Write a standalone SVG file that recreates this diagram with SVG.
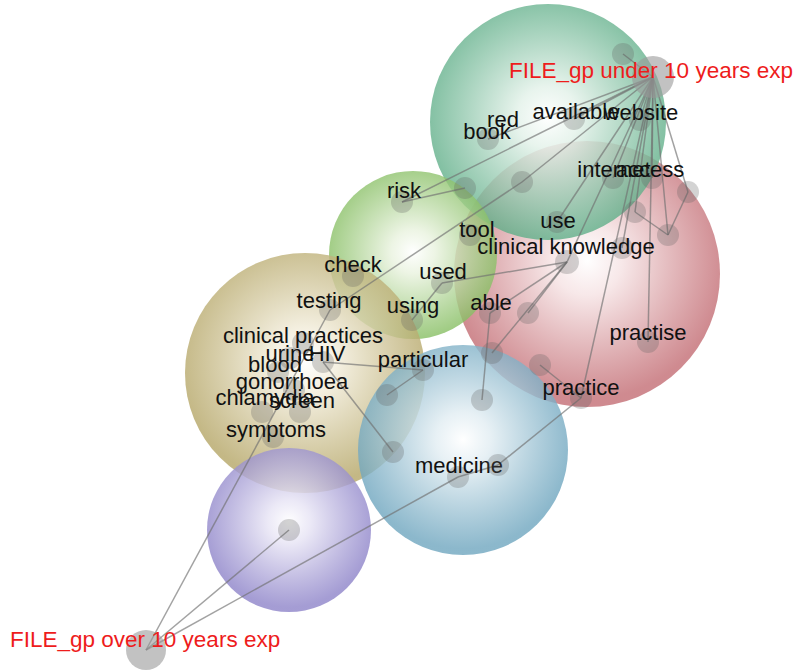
<svg xmlns="http://www.w3.org/2000/svg" width="799" height="671" viewBox="0 0 799 671">
<style>
.lbl{font-family:"Liberation Sans",Arial,sans-serif;font-size:22px;fill:#111;text-anchor:middle}
.file{font-family:"Liberation Sans",Arial,sans-serif;font-size:22.5px;fill:#ee1c1c}
.nd{fill:#606060;fill-opacity:0.28}
.hub{fill:#9a9a9a;fill-opacity:0.6}
.ed{stroke:#707070;stroke-opacity:0.65;stroke-width:1.5;fill:none}
</style>
<defs>
<radialGradient id="gTeal" cx="50%" cy="48%" r="52%">
<stop offset="0" stop-color="#ffffff" stop-opacity="0.95"/><stop offset="0.25" stop-color="#e4f2ea" stop-opacity="0.85"/><stop offset="1" stop-color="#5fae88" stop-opacity="0.8"/></radialGradient>
<radialGradient id="gRed" cx="50%" cy="45%" r="52%">
<stop offset="0" stop-color="#ffffff" stop-opacity="0.95"/><stop offset="0.25" stop-color="#f6e4e5" stop-opacity="0.85"/><stop offset="1" stop-color="#c36d74" stop-opacity="0.8"/></radialGradient>
<radialGradient id="gGreen" cx="50%" cy="48%" r="52%">
<stop offset="0" stop-color="#ffffff" stop-opacity="0.95"/><stop offset="0.25" stop-color="#eaf3e0" stop-opacity="0.85"/><stop offset="1" stop-color="#86be62" stop-opacity="0.8"/></radialGradient>
<radialGradient id="gTan" cx="50%" cy="45%" r="52%">
<stop offset="0" stop-color="#ffffff" stop-opacity="0.95"/><stop offset="0.25" stop-color="#f3eedd" stop-opacity="0.85"/><stop offset="1" stop-color="#b5a667" stop-opacity="0.8"/></radialGradient>
<radialGradient id="gBlue" cx="50%" cy="45%" r="52%">
<stop offset="0" stop-color="#ffffff" stop-opacity="0.95"/><stop offset="0.25" stop-color="#e3eef3" stop-opacity="0.85"/><stop offset="1" stop-color="#6fa6bf" stop-opacity="0.8"/></radialGradient>
<radialGradient id="gPurple" cx="50%" cy="45%" r="52%">
<stop offset="0" stop-color="#ffffff" stop-opacity="0.95"/><stop offset="0.25" stop-color="#e8e5f5" stop-opacity="0.85"/><stop offset="1" stop-color="#8e84c9" stop-opacity="0.8"/></radialGradient>
</defs>
<rect width="799" height="671" fill="#ffffff"/>
<g id="themes">
<circle id="theme-red" cx="587" cy="274" r="133" fill="url(#gRed)"/>
<circle id="theme-teal" cx="548" cy="122" r="118" fill="url(#gTeal)"/>
<circle id="theme-green" cx="413" cy="255" r="84" fill="url(#gGreen)"/>
<circle id="theme-tan" cx="305" cy="373" r="120" fill="url(#gTan)"/>
<circle id="theme-blue" cx="463" cy="450" r="105" fill="url(#gBlue)"/>
<circle id="theme-purple" cx="289" cy="530" r="82" fill="url(#gPurple)"/>
</g>
<g id="connectors">
<line class="ed" x1="653" y1="77" x2="623" y2="54"/>
<line class="ed" x1="653" y1="77" x2="640" y2="120"/>
<line class="ed" x1="653" y1="77" x2="574" y2="119"/>
<line class="ed" x1="653" y1="77" x2="488" y2="139"/>
<line class="ed" x1="653" y1="77" x2="402" y2="202"/>
<line class="ed" x1="653" y1="77" x2="522" y2="182"/>
<line class="ed" x1="653" y1="77" x2="613" y2="178"/>
<line class="ed" x1="653" y1="77" x2="652" y2="178"/>
<line class="ed" x1="653" y1="77" x2="688" y2="192"/>
<line class="ed" x1="653" y1="77" x2="635" y2="212"/>
<line class="ed" x1="653" y1="77" x2="668" y2="235"/>
<line class="ed" x1="653" y1="77" x2="557" y2="222"/>
<line class="ed" x1="653" y1="77" x2="567" y2="262"/>
<line class="ed" x1="653" y1="77" x2="622" y2="248"/>
<line class="ed" x1="653" y1="77" x2="648" y2="342"/>
<line class="ed" x1="653" y1="77" x2="581" y2="398"/>
<line class="ed" x1="402" y1="202" x2="465" y2="188"/>
<line class="ed" x1="522" y1="182" x2="330" y2="310"/>
<line class="ed" x1="442" y1="283" x2="567" y2="262"/>
<line class="ed" x1="442" y1="283" x2="412" y2="320"/>
<line class="ed" x1="567" y1="262" x2="490" y2="313"/>
<line class="ed" x1="567" y1="262" x2="528" y2="313"/>
<line class="ed" x1="567" y1="262" x2="492" y2="353"/>
<line class="ed" x1="490" y1="313" x2="482" y2="400"/>
<line class="ed" x1="635" y1="212" x2="668" y2="235"/>
<line class="ed" x1="688" y1="192" x2="668" y2="235"/>
<line class="ed" x1="540" y1="365" x2="581" y2="398"/>
<line class="ed" x1="581" y1="398" x2="498" y2="465"/>
<line class="ed" x1="498" y1="465" x2="458" y2="477"/>
<line class="ed" x1="146" y1="650" x2="458" y2="477"/>
<line class="ed" x1="146" y1="650" x2="289" y2="530"/>
<line class="ed" x1="146" y1="650" x2="330" y2="310"/>
<line class="ed" x1="323" y1="362" x2="423" y2="370"/>
<line class="ed" x1="323" y1="362" x2="393" y2="452"/>
<line class="ed" x1="423" y1="370" x2="387" y2="395"/>
</g>
<g id="node-gp-under"><circle class="hub" cx="653" cy="77" r="21"/><text class="file" x="509" y="78">FILE_gp under 10 years exp</text></g>
<g id="node-gp-over"><circle class="hub" cx="146" cy="650" r="20"/><text class="file" x="10" y="647">FILE_gp over 10 years exp</text></g>
<g id="node-n1"><circle class="nd" cx="623" cy="54" r="11"/></g>
<g id="node-red"><circle class="nd" cx="488" cy="139" r="11"/><text class="lbl" x="503" y="127">red</text></g>
<g id="node-book"><text class="lbl" x="487" y="139">book</text></g>
<g id="node-available"><circle class="nd" cx="574" cy="119" r="11"/><text class="lbl" x="576" y="119">available</text></g>
<g id="node-website"><circle class="nd" cx="640" cy="120" r="11"/><text class="lbl" x="641" y="120">website</text></g>
<g id="node-internet"><circle class="nd" cx="613" cy="178" r="11"/><text class="lbl" x="614" y="177">internet</text></g>
<g id="node-access"><circle class="nd" cx="652" cy="178" r="11"/><text class="lbl" x="650" y="177">access</text></g>
<g id="node-n2"><circle class="nd" cx="688" cy="192" r="11"/></g>
<g id="node-n3"><circle class="nd" cx="522" cy="182" r="11"/></g>
<g id="node-n4"><circle class="nd" cx="465" cy="188" r="11"/></g>
<g id="node-n5"><circle class="nd" cx="635" cy="212" r="11"/></g>
<g id="node-n6"><circle class="nd" cx="668" cy="235" r="11"/></g>
<g id="node-n7"><circle class="nd" cx="622" cy="248" r="11"/></g>
<g id="node-risk"><circle class="nd" cx="402" cy="202" r="11"/><text class="lbl" x="404" y="198">risk</text></g>
<g id="node-tool"><circle class="nd" cx="470" cy="235" r="11"/><text class="lbl" x="477" y="237">tool</text></g>
<g id="node-use"><circle class="nd" cx="557" cy="222" r="11"/><text class="lbl" x="558" y="228">use</text></g>
<g id="node-clinical-knowledge"><circle class="nd" cx="567" cy="262" r="12"/><text class="lbl" x="566" y="254">clinical knowledge</text></g>
<g id="node-check"><circle class="nd" cx="353" cy="276" r="11"/><text class="lbl" x="353" y="272">check</text></g>
<g id="node-used"><circle class="nd" cx="442" cy="283" r="11"/><text class="lbl" x="443" y="279">used</text></g>
<g id="node-using"><circle class="nd" cx="412" cy="320" r="11"/><text class="lbl" x="413" y="313">using</text></g>
<g id="node-able"><circle class="nd" cx="490" cy="313" r="11"/><text class="lbl" x="491" y="310">able</text></g>
<g id="node-n8"><circle class="nd" cx="528" cy="313" r="11"/></g>
<g id="node-n9"><circle class="nd" cx="492" cy="353" r="11"/></g>
<g id="node-practise"><circle class="nd" cx="648" cy="342" r="11"/><text class="lbl" x="648" y="340">practise</text></g>
<g id="node-n10"><circle class="nd" cx="540" cy="365" r="11"/></g>
<g id="node-practice"><circle class="nd" cx="581" cy="398" r="11"/><text class="lbl" x="581" y="395">practice</text></g>
<g id="node-particular"><circle class="nd" cx="423" cy="370" r="11"/><text class="lbl" x="423" y="367">particular</text></g>
<g id="node-n11"><circle class="nd" cx="387" cy="395" r="11"/></g>
<g id="node-n12"><circle class="nd" cx="482" cy="400" r="11"/></g>
<g id="node-n13"><circle class="nd" cx="393" cy="452" r="11"/></g>
<g id="node-medicine"><circle class="nd" cx="458" cy="477" r="11"/><text class="lbl" x="459" y="473">medicine</text></g>
<g id="node-n14"><circle class="nd" cx="498" cy="465" r="11"/></g>
<g id="node-testing"><circle class="nd" cx="330" cy="310" r="11"/><text class="lbl" x="329" y="308">testing</text></g>
<g id="node-clinical-practices"><circle class="nd" cx="303" cy="343" r="11"/><text class="lbl" x="303" y="343">clinical practices</text></g>
<g id="node-urine"><circle class="nd" cx="290" cy="358" r="11"/><text class="lbl" x="290" y="361">urine</text></g>
<g id="node-hiv"><circle class="nd" cx="323" cy="362" r="11"/><text class="lbl" x="327" y="361">HIV</text></g>
<g id="node-blood"><circle class="nd" cx="278" cy="372" r="11"/><text class="lbl" x="275" y="372">blood</text></g>
<g id="node-gonorrhoea"><circle class="nd" cx="294" cy="390" r="11"/><text class="lbl" x="292" y="389">gonorrhoea</text></g>
<g id="node-chlamydia"><circle class="nd" cx="262" cy="412" r="11"/><text class="lbl" x="265" y="405">chlamydia</text></g>
<g id="node-screen"><circle class="nd" cx="300" cy="412" r="11"/><text class="lbl" x="302" y="408">screen</text></g>
<g id="node-symptoms"><circle class="nd" cx="273" cy="437" r="11"/><text class="lbl" x="276" y="437">symptoms</text></g>
<g id="node-n15"><circle class="nd" cx="289" cy="530" r="11"/></g>
</svg>
